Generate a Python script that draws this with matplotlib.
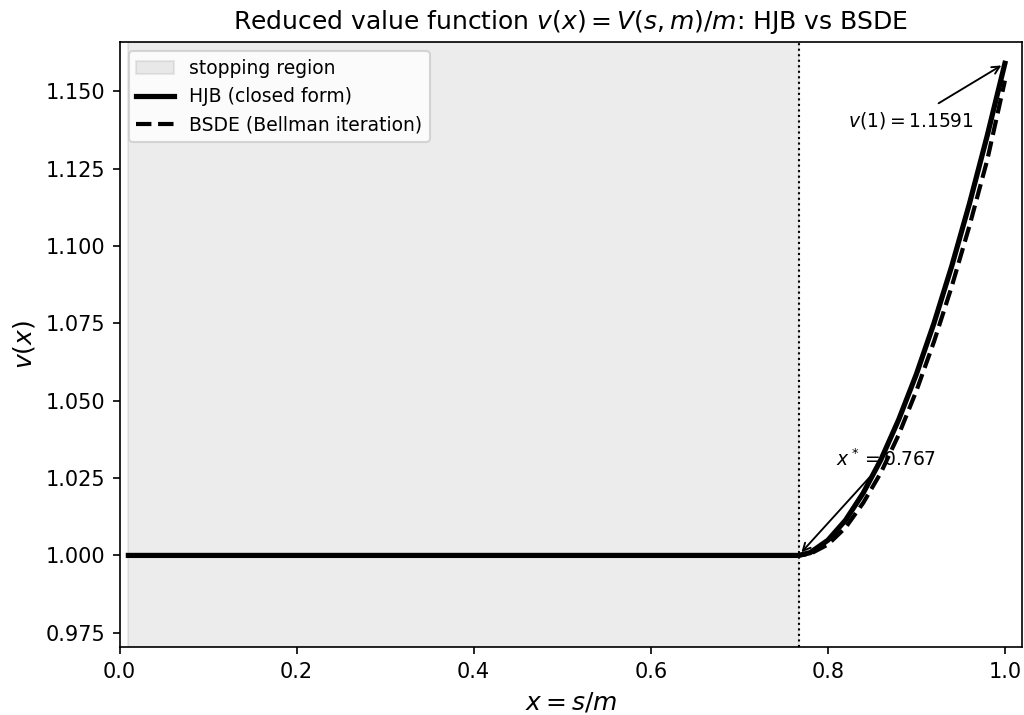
#!/usr/bin/env python3
# reduced value function: HJB closed form vs BSDE iteration
import matplotlib.pyplot as plt

x_star = 0.767
v_one = 1.1591

# values
x_hjb = [0.01, 0.767, 0.78, 0.80, 0.82, 0.84, 0.86, 0.88, 0.90, 0.92, 0.94, 0.96, 0.98, 1.00]
v_hjb = [1.0, 1.0, 1.0009, 1.0049, 1.0114, 1.0202, 1.0310, 1.0439, 1.0586, 1.0752,
         1.0936, 1.1138, 1.1357, 1.1591]
x_bsde = [0.01, 0.767, 0.78, 0.80, 0.82, 0.84, 0.86, 0.88, 0.90, 0.92, 0.94, 0.96, 0.98, 1.00]
v_bsde = [1.0, 1.0, 1.0005, 1.0035, 1.0090, 1.0170, 1.0268, 1.0390, 1.0532, 1.0692,
          1.0870, 1.1066, 1.1278, 1.1535]

fig = plt.figure(figsize=(1024/150, 715/150), dpi=150)
ax = fig.add_axes([0.1167, 0.0947, 0.8811, 0.8466])

ax.axvspan(x_hjb[0], x_star, color='gray', alpha=0.15, label='stopping region')
ax.plot(x_hjb, v_hjb, color='black', lw=2.5, label='HJB (closed form)')
ax.plot(x_bsde, v_bsde, color='black', lw=2, ls='--', label='BSDE (Bellman iteration)')
ax.axvline(x_star, color='black', lw=1, ls=':')

ax.annotate(r'$x^* = %.3f$' % x_star, xy=(x_star, 1.0), xytext=(0.809, 1.0289),
            arrowprops=dict(arrowstyle='->', color='black', lw=0.9), fontsize=9)
ax.annotate(r'$v(1) = %.4f$' % v_one, xy=(1.0, v_one), xytext=(0.8227, 1.1388),
            arrowprops=dict(arrowstyle='->', color='black', lw=0.9), fontsize=9)

ax.set_xlim(0.0, 1.019)
ax.set_ylim(0.9703, 1.166)
ax.set_xlabel(r'$x = s/m$', fontsize=12)
ax.set_ylabel(r'$v(x)$', fontsize=12)
ax.set_title(r'Reduced value function $v(x) = V(s,m)/m$: HJB vs BSDE', fontsize=12)
ax.legend(loc='upper left', fontsize=9)

fig.savefig('out.png', dpi=150)
